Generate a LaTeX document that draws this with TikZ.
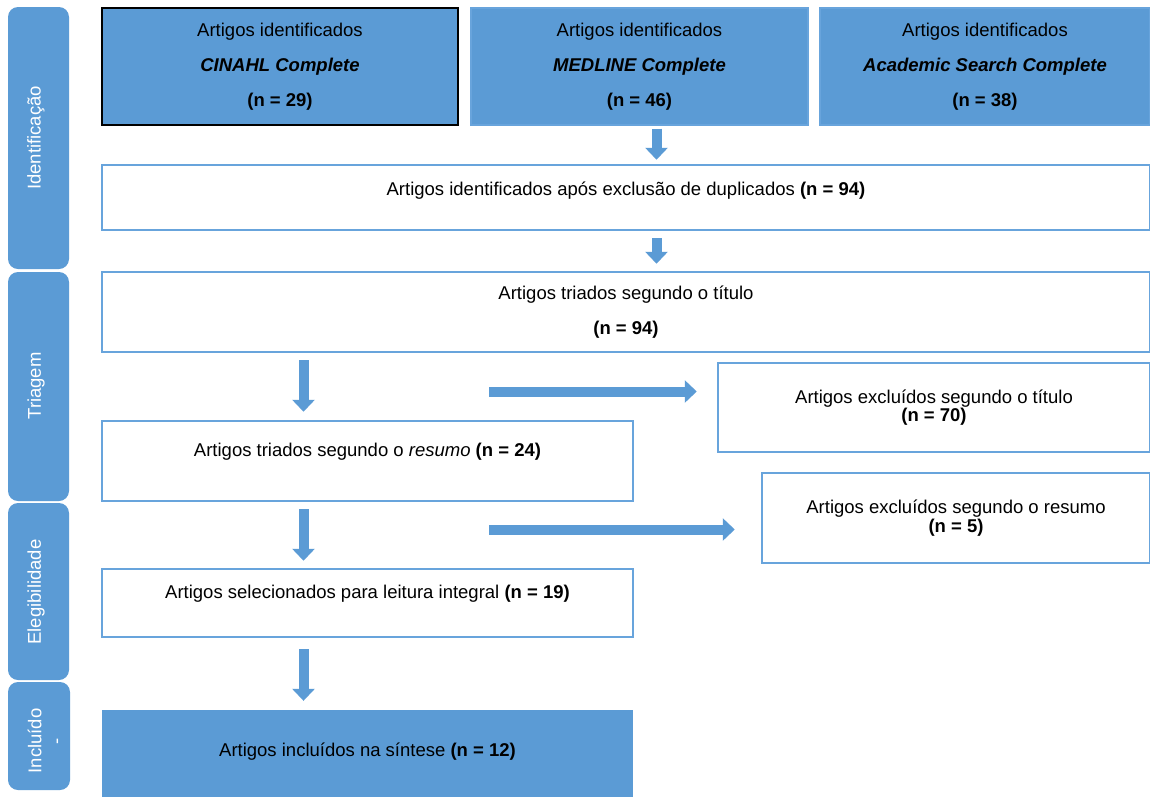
\documentclass[tikz,border=0pt]{standalone}
\usepackage{fontspec}
\setmainfont{Liberation Sans}
\usepackage{xcolor}
\usetikzlibrary{arrows.meta,calc}
\definecolor{prisma}{RGB}{91,155,213}
\definecolor{prismaline}{RGB}{104,164,220}
\tikzset{
  phasebar/.style = {fill=prisma, rounded corners=10pt},
  phaselabel/.style = {rotate=90, text=white, font=\fontsize{18.5}{21}\selectfont},
  srcbox/.style = {fill=prisma, draw=#1, line width=1.4pt, inner sep=0pt,
    minimum height=117, align=center, font=\fontsize{18.5}{35}\selectfont},
  stepbox/.style = {fill=white, draw=prismaline, line width=2.5pt, inner sep=0pt},
  steptext/.style = {align=center, font=\fontsize{18.5}{35}\selectfont},
  tighttext/.style = {align=center, font=\fontsize{18.5}{17}\selectfont},
  flowarrow/.style = {prisma, line width=10pt, -{Triangle[width=22pt,length=12pt]}}
}

\begin{document}
\begin{tikzpicture}[x=1pt,y=-1pt]

  \useasboundingbox[fill=white] (0,0) rectangle (1150,796);

  % phases on the left
  \fill[phasebar] (8,7) rectangle (69,269);
  \fill[phasebar] (8,272) rectangle (69,501);
  \fill[phasebar] (8,503) rectangle (69,680);
  \fill[phasebar] (8,682) rectangle (70,790);

  \node[phaselabel] (lblident) at (36,138) {Identificação};
  \node[phaselabel] (lbltri) at (36,386) {Triagem};
  \node[phaselabel] (lblele) at (36,592) {Elegibilidade};
  \node[phaselabel, align=center] (lblinc) at (45,741) {Incluído\\-};

  % databases
  \foreach \name/\cx/\w/\base/\n/\edge in
     {cinahl/280/356/CINAHL Complete/29/black,
      medline/639.5/337/MEDLINE Complete/46/prismaline,
      academic/985/330/Academic Search Complete/38/prismaline}{
    \node[srcbox=\edge, minimum width=\w] (\name) at (\cx,66.5)
      {Artigos identificados\\\textbf{\textit{\base}}\\\textbf{(n = \n)}};
  }

  % screening steps
  \node[stepbox, minimum width=1048, minimum height=65,
        label={[steptext, yshift=7]center:Artigos identificados após exclusão de duplicados \textbf{(n = 94)}}]
        (dedup) at (626,197.5) {};
  \node[stepbox, steptext, minimum width=1048, minimum height=80]
        (titulo) at (626,312) {Artigos triados segundo o título\\\textbf{(n = 94)}};
  \node[stepbox, tighttext, minimum width=432, minimum height=89]
        (excl1) at (934,407.5) {Artigos excluídos segundo o título\\\textbf{(n = 70)}};
  \node[stepbox, minimum width=531, minimum height=80,
        label={[steptext, yshift=9]center:Artigos triados segundo o \textit{resumo} \textbf{(n = 24)}}]
        (resumo) at (367.5,461) {};
  \node[stepbox, tighttext, minimum width=388, minimum height=90]
        (excl2) at (956,518) {Artigos excluídos segundo o resumo\\\textbf{(n = 5)}};
  \node[stepbox, minimum width=531, minimum height=68,
        label={[steptext, yshift=9]center:Artigos selecionados para leitura integral \textbf{(n = 19)}}]
        (selec) at (367.5,603) {};
  \node[fill=prisma, inner sep=0pt, minimum width=531, minimum height=90,
        label={[steptext, yshift=3]center:Artigos incluídos na síntese \textbf{(n = 12)}}]
        (incl) at (367.5,755) {};

  % arrows
  \coordinate (cut1) at (489,391.5);
  \coordinate (cut2) at (489,529.5);

  \draw[flowarrow, shorten <=3, shorten >=4]
    ([xshift=17]medline.south) -- ([xshift=17]medline.south |- dedup.north);
  \draw[flowarrow, shorten <=7, shorten >=7]
    ([xshift=30.5]dedup.south) -- ([xshift=30.5]dedup.south |- titulo.north);
  \draw[flowarrow, shorten <=7, shorten >=8]
    ([xshift=-64]resumo.north |- titulo.south) -- ([xshift=-64]resumo.north);
  \draw[flowarrow, shorten <=7, shorten >=7]
    ([xshift=-64]resumo.south) -- ([xshift=-64]selec.north);
  \draw[flowarrow, shorten <=11, shorten >=9]
    ([xshift=-64]selec.south) -- ([xshift=-64]incl.north);
  \draw[flowarrow, shorten >=20] (cut1) -- (cut1 -| excl1.west);
  \draw[flowarrow, shorten >=26] (cut2) -- (cut2 -| excl2.west);

\end{tikzpicture}
\end{document}
